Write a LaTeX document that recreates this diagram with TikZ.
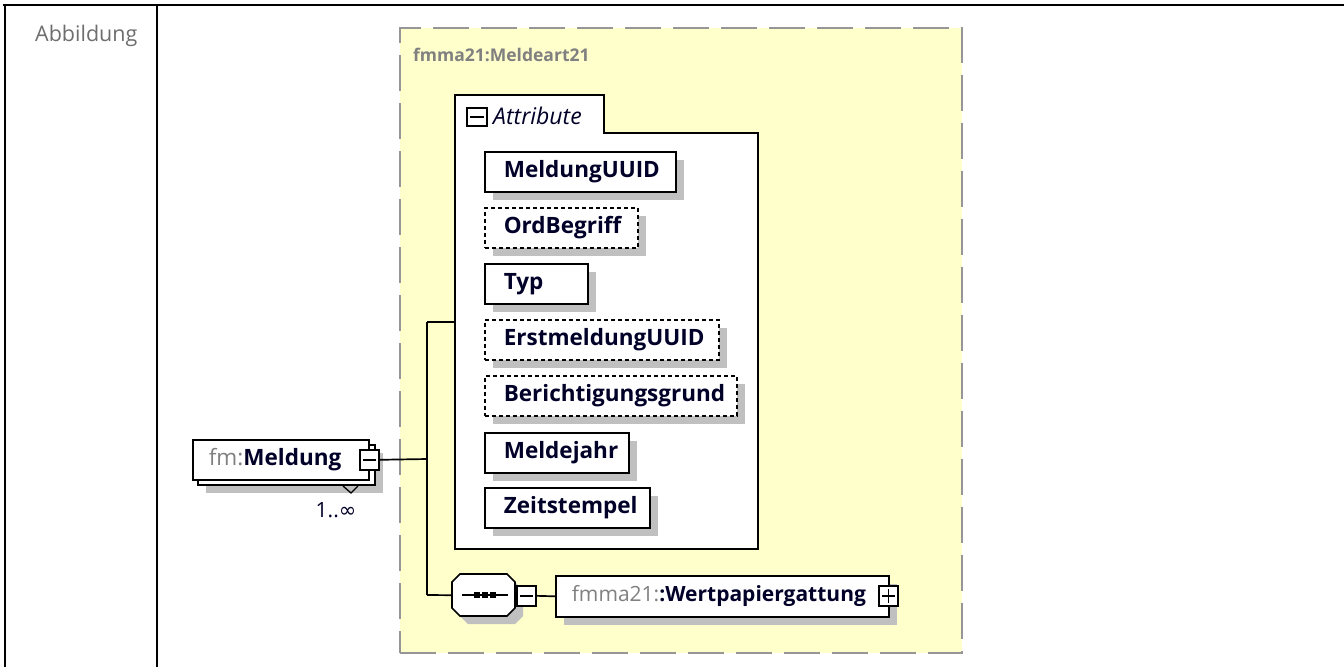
\documentclass[tikz,border=0pt]{standalone}
\usepackage{fontspec}
\setmainfont{Open Sans}
\newfontfamily\symfont{DejaVu Sans}
\definecolor{yel}{RGB}{255,255,204}
\definecolor{dashgray}{RGB}{150,150,150}
\definecolor{shad}{RGB}{192,192,192}
\definecolor{ink}{RGB}{0,0,40}
\definecolor{labgray}{RGB}{128,128,128}
\definecolor{softgray}{RGB}{110,110,110}
\begin{document}
\begin{tikzpicture}[x=1pt,y=-1pt,
  shadowed/.style={preaction={fill=shad, transform canvas={xshift=8pt,yshift=-8pt}}},
  elem/.style={draw=black, line width=1.7pt, fill=white, shadowed, anchor=north west,
    inner ysep=0pt, inner xsep=19pt, minimum height=40pt, align=left,
    font=\bfseries\fontsize{22.5}{26}\selectfont, text=ink},
  optelem/.style={elem, line width=1.5pt, dash pattern=on 4pt off 3pt},
  iconbox/.style={draw=black, line width=1.6pt, fill=white, anchor=north west,
    minimum width=19pt, minimum height=20pt, inner sep=0pt},
  iconline/.style={draw=black, line width=1.6pt},
  conn/.style={draw=black, line width=1.7pt},
  grouplabel/.style={anchor=base west, inner sep=0pt, text=labgray,
    font=\bfseries\fontsize{17.5}{20}\selectfont}
]
\useasboundingbox (0,0) rectangle (1344,667);
\fill[white] (0,0) rectangle (1344,667);

% table frame
\draw[line width=2.6pt] (3,5) -- (1344,5);
\draw[line width=2.6pt] (5,5) -- (5,667);
\draw[line width=2.6pt] (157,5) -- (157,667);
\node[anchor=base west, inner sep=0pt, text=softgray, font=\fontsize{21.5}{24}\selectfont] (abb) at (35,41) {Abbildung};

% yellow complex type group
\node[draw=dashgray, fill=yel, line width=2.2pt, dash pattern=on 36pt off 12pt,
  anchor=north west, minimum width=562pt, minimum height=625pt, inner sep=0pt] (grp) at (399,27) {};
\node[grouplabel] (grplab) at (413,61) {fmma21:Meldeart21};

% attribute container with tab
\node[anchor=north west, minimum width=303pt, minimum height=454pt, inner sep=0pt] (attrs) at (455,95) {};
\draw[line width=1.7pt, fill=white] (455,95) -- (604,95) -- (604,133) -- (758,133) -- (758,549) -- (455,549) -- cycle;
\node[iconbox, minimum width=20pt, minimum height=18pt] (attrminus) at (466,107) {};
\draw[iconline] ([xshift=4pt]attrminus.west) -- ([xshift=-4pt]attrminus.east);
\node[anchor=base west, inner sep=0pt, text=ink, font=\itshape\fontsize{23}{26}\selectfont] (attrlab) at (493,124) {Attribute};

% attribute entries
\node[elem, text width=153pt] (a1) at (484,151) {MeldungUUID};
\node[optelem, text width=115pt] (a2) at (484,207) {OrdBegriff};
\node[elem, text width=65pt] (a3) at (484,263) {Typ};
\node[optelem, text width=196pt] (a4) at (484,319) {ErstmeldungUUID};
\node[optelem, text width=214pt] (a5) at (484,375) {Berichtigungsgrund};
\node[elem, text width=106pt] (a6) at (484,432) {Meldejahr};
\node[elem, text width=127pt] (a7) at (484,487) {Zeitstempel};

% Meldung element (repeated)
\fill[shad] (206,453) rectangle (383,493);
\draw[line width=1.7pt, fill=white] (198,445) rectangle (375,485);
\node[draw=black, line width=1.7pt, fill=white, anchor=north west, minimum width=176pt,
  minimum height=40pt, inner ysep=0pt, inner xsep=16pt, text width=144pt, align=left,
  font=\fontsize{22.5}{26}\selectfont] (meld) at (192,439)
  {{\color{labgray}fm:}\textbf{\color{ink}Meldung}};
\node[iconbox] (mminus) at (359,449) {};
\draw[iconline] ([xshift=4pt]mminus.west) -- ([xshift=-4pt]mminus.east);
\draw[line width=1.3pt] (343,486) -- (351,493) -- (358,486);
\node[anchor=base, inner sep=0pt, text=ink, font=\fontsize{21}{24}\selectfont] (card) at (336,517) {1..{\symfont ∞}};

% sequence compositor
\node[anchor=north west, minimum width=63pt, minimum height=42pt, inner sep=0pt] (seq) at (452,574) {};
\draw[line width=1.7pt, fill=white, shadowed]
  (460,574) -- (507,574) -- (515,582) -- (515,608) -- (507,616) -- (460,616) -- (452,608) -- (452,582) -- cycle;
\draw[line width=1.9pt] (462,595) -- (508,595);
\foreach \dx in {477,485,493} \fill (\dx-2.8,592.2) rectangle (\dx+2.8,597.8);
\node[iconbox] (sminus) at (516,585) {};
\draw[iconline] ([xshift=4pt]sminus.west) -- ([xshift=-4pt]sminus.east);

% Wertpapiergattung element
\node[draw=black, line width=1.7pt, fill=white, shadowed, anchor=north west,
  minimum width=333pt, minimum height=41pt, inner ysep=0pt, inner xsep=16pt,
  text width=301pt, align=left, font=\fontsize{21}{24}\selectfont] (wp) at (555,575)
  {{\color{labgray}fmma21:}\textbf{\color{ink}:Wertpapiergattung}};
\node[iconbox] (wplus) at (878,585) {};
\draw[iconline] ([xshift=4pt]wplus.west) -- ([xshift=-4pt]wplus.east);
\draw[iconline] ([yshift=-4pt]wplus.north) -- ([yshift=4pt]wplus.south);

% connectors
\coordinate (jm) at (427,459);
\coordinate (jt) at (427,322);
\coordinate (jb) at (427,595);
\draw[conn] (mminus.east) -- (jm);
\draw[conn] (jt) -- (jb);
\draw[conn] (jt) -- (jt -| attrs.west);
\draw[conn] (jb) -- (seq.west);
\draw[conn] (sminus.east) -- (wp.west);
\end{tikzpicture}
\end{document}
